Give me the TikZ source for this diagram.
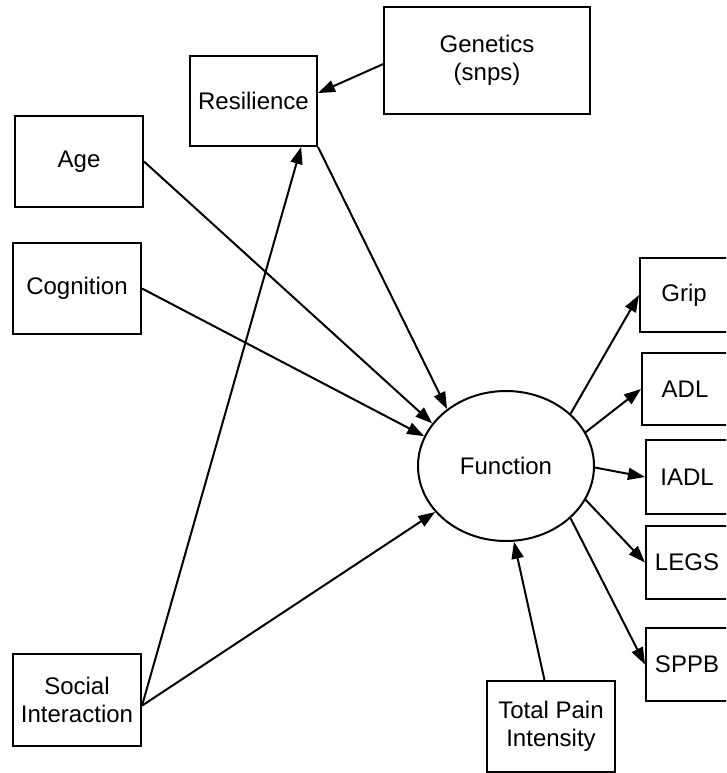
\documentclass[tikz,border=0pt]{standalone}
\usepackage{fontspec}
\setmainfont{Liberation Sans}
\usetikzlibrary{arrows.meta,shapes.geometric}
\begin{document}
\begin{tikzpicture}[x=1pt,y=-1pt,
  every node/.style={font=\fontsize{24}{27.5}\selectfont, align=center, inner sep=0pt},
  box/.style={draw, line width=2pt, rectangle},
  latent/.style={draw, line width=2pt, ellipse, minimum width=176pt, minimum height=150pt},
  conn/.style={line width=2pt, -{Triangle[length=17pt,width=12pt]}}]
\useasboundingbox (0,0) rectangle (726,773);
\clip (0,0) rectangle (726,773);
% nodes
\node[box, minimum width=206pt, minimum height=107pt] (gen) at (487,60.5) {Genetics\\(snps)};
\node[box, minimum width=127pt, minimum height=90pt] (res) at (253.5,101) {Resilience};
\node[box, minimum width=128pt, minimum height=91pt] (age) at (79,161.5) {Age};
\node[box, minimum width=128pt, minimum height=91pt] (cog) at (77,288.5) {Cognition};
\node[box, minimum width=128pt, minimum height=92pt] (soc) at (77,700) {Social\\Interaction};
\node[box, minimum width=128pt, minimum height=91pt] (pain) at (551,726.5) {Total Pain\\Intensity};
\node[latent] (fun) at (506,466) {Function};
\node[box, minimum width=88pt, minimum height=74pt] (grip) at (684,295) {Grip};
\node[box, minimum width=86pt, minimum height=72pt] (adl) at (685,389) {ADL};
\node[box, minimum width=82pt, minimum height=74pt] (iadl) at (687,477) {IADL};
\node[box, minimum width=82pt, minimum height=73pt] (legs) at (687,562.5) {LEGS};
\node[box, minimum width=82pt, minimum height=73pt] (sppb) at (687,664.5) {SPPB};
% connectors
\draw[conn] (gen.182.5) -- (res.7);
\draw[conn] (res.south east) -- (fun.136.5);
\draw[conn] (age.east) -- (fun.150);
\draw[conn] (cog.east) -- (fun.160.5);
\draw[conn] (soc.355.5) -- (res.316.5);
\draw[conn] (soc.355.5) -- (fun.213.3);
\draw[conn] (pain.98.7) -- (fun.276.8);
\draw[conn] (fun.39.6) -- (grip.west);
\draw[conn] (fun.23.6) -- (adl.west);
\draw[conn] (fun.-1) -- (iadl.west);
\draw[conn] (fun.-23.6) -- (legs.west);
\draw[conn] (fun.-39.1) -- (sppb.west);
\end{tikzpicture}
\end{document}
